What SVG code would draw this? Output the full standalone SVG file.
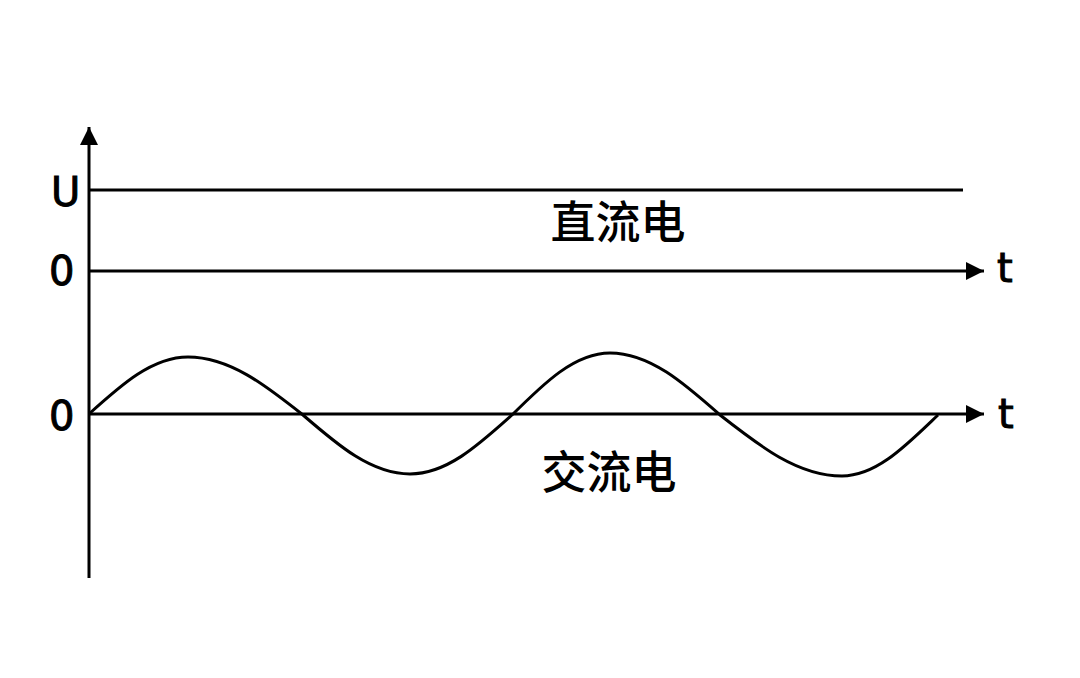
<svg xmlns="http://www.w3.org/2000/svg" width="1080" height="678" viewBox="0 0 1080 678">
<style>
.ln{stroke:#000;stroke-width:3;fill:none}
.lbl{font-family:"DejaVu Sans","Liberation Sans",sans-serif;font-size:40px;fill:#000;stroke:#000;stroke-width:1}
.cjk{font-family:"Noto Sans CJK SC",sans-serif;font-size:45px;font-weight:500;fill:#000;text-anchor:middle}
</style>
<defs>
<marker id="ah" markerUnits="userSpaceOnUse" markerWidth="20" markerHeight="20" refX="18" refY="9" orient="auto">
<path d="M0,0 L18,9 L0,18 Z" fill="#000"/>
</marker>
</defs>
<rect width="1080" height="678" fill="#fff"/>
<g id="connectors">
<line id="yaxis" class="ln" x1="89" y1="578" x2="89" y2="127" marker-end="url(#ah)"/>
<line id="dc-line" class="ln" x1="89" y1="190" x2="963" y2="190"/>
<line id="taxis1" class="ln" x1="89" y1="271" x2="984" y2="271" marker-end="url(#ah)"/>
<line id="taxis2" class="ln" x1="89" y1="414" x2="984" y2="414" marker-end="url(#ah)"/>
<path id="ac-wave" class="ln" d="M89,414 C121.3,384.8 152.2,357 188,357 C229.6,357 265.5,385.3 303,415 C337.9,445.2 371.3,474 410,474 C446.9,474 478.7,444.8 512,415 C543.9,383.3 574.5,353 610,353 C649.8,353 684.1,383.3 720,415 C759.8,446.2 797.8,476 842,476 C876.8,476 906.7,444.8 938,415"/>
</g>
<g id="labels">
<text class="lbl" x="51" y="206">U</text>
<text class="lbl" x="49" y="285">0</text>
<text class="lbl" x="49" y="430">0</text>
<text class="lbl" x="997" y="282">t</text>
<text class="lbl" x="998" y="428">t</text>
</g>
<g id="dc-label"><text class="cjk" x="618" y="239">直流电</text></g>
<g id="ac-label"><text class="cjk" x="609" y="489">交流电</text></g>
</svg>
